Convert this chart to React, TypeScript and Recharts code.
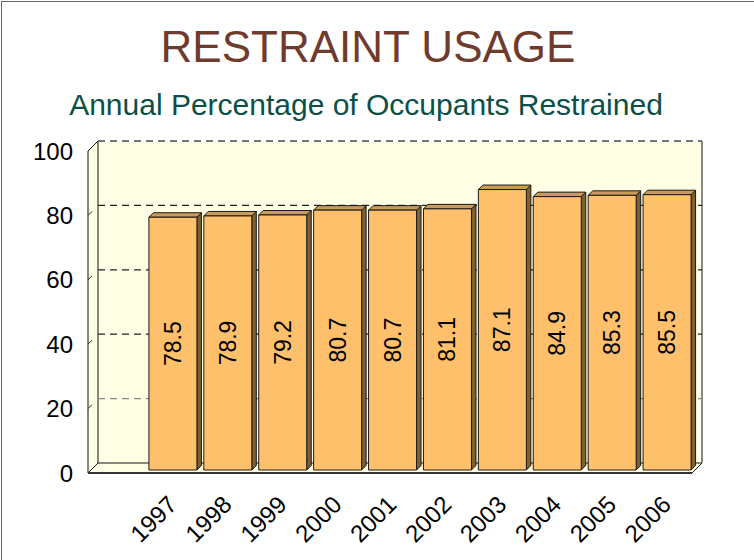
import React from 'react';
import { BarChart, Bar, XAxis, YAxis, ReferenceArea, LabelList } from 'recharts';

// first slot is left empty on purpose, like the original sheet
const years = ['', '1997', '1998', '1999', '2000', '2001', '2002', '2003', '2004', '2005', '2006'];
const usage = [null, 78.5, 78.9, 79.2, 80.7, 80.7, 81.1, 87.1, 84.9, 85.3, 85.5];
const yTicks = [0, 20, 40, 60, 80, 100];

const data = years.map((year, i) => ({ year, usage: usage[i] }));

const FONT = 'Arial, "Liberation Sans", sans-serif';
const WALL = '#FFFFE6';
const BACK = 7;
const FRONT = 3;

const Walls = (props: any) => {
  const { x, y, width, height } = props;
  const left = x;
  const right = x + width;
  const top = y;
  const bottom = y + height;
  const yOf = (v: number) => bottom - (v / 100) * height;

  return (
    <g>
      <rect x={left + BACK} y={top - BACK} width={width} height={height} fill={WALL} stroke="none" />
      <polygon
        points={`${left - FRONT},${bottom + FRONT} ${left + BACK},${bottom - BACK} ${left + BACK},${top - BACK} ${left - FRONT},${top + FRONT}`}
        fill={WALL}
        stroke="#111"
        strokeWidth={1}
      />
      <polygon
        points={`${left - FRONT},${bottom + FRONT} ${left + BACK},${bottom - BACK} ${right + BACK},${bottom - BACK} ${right - FRONT},${bottom + FRONT}`}
        fill={WALL}
        stroke="#111"
        strokeWidth={1}
      />
      <line x1={right + BACK} y1={top - BACK} x2={right + BACK} y2={bottom - BACK} stroke="#888" strokeWidth={2} />
      <line x1={left + BACK} y1={top - BACK} x2={right + BACK} y2={top - BACK} stroke="#777" strokeWidth={2} strokeDasharray="7 5" />
      {yTicks.filter((v) => v > 0 && v < 100).map((v) => (
        <g key={v}>
          <line
            x1={left + BACK}
            y1={yOf(v) - BACK}
            x2={right + BACK}
            y2={yOf(v) - BACK}
            stroke={v === 20 ? '#888' : '#222'}
            strokeWidth={1.3}
            strokeDasharray="7 5"
          />
          <line x1={left - FRONT} y1={yOf(v) + FRONT} x2={left - FRONT + 4} y2={yOf(v) + FRONT - 4} stroke="#222" />
        </g>
      ))}
      <line x1={left - FRONT} y1={bottom + FRONT} x2={right - FRONT} y2={bottom + FRONT} stroke="#333" strokeWidth={2} />
    </g>
  );
};

const Bar3D = (props: any) => {
  const { x, y, width, height } = props;
  if (!height || height <= 0) return null;
  const d = 4.5;
  return (
    <g stroke="#1a1a1a" strokeWidth={1} strokeLinejoin="round">
      <polygon
        points={`${x + width},${y} ${x + width + d},${y - d} ${x + width + d},${y + height - d} ${x + width},${y + height}`}
        fill="#80602F"
      />
      <polygon
        points={`${x},${y} ${x + d},${y - d} ${x + width + d},${y - d} ${x + width},${y}`}
        fill="#C99A58"
      />
      <rect x={x} y={y} width={width} height={height} fill="#FFC06C" />
    </g>
  );
};

const ValueLabel = (props: any) => {
  const { x, y, width, height, value } = props;
  if (value == null) return null;
  const cx = x + width / 2;
  const cy = y + height / 2;
  return (
    <text
      x={cx}
      y={cy}
      transform={`rotate(-90, ${cx}, ${cy})`}
      textAnchor="middle"
      dominantBaseline="central"
      fontSize={23}
      fontFamily={FONT}
      fill="#000"
    >
      {value.toFixed(1)}
    </text>
  );
};

const YearTick = (props: any) => {
  const { x, y, payload } = props;
  if (!payload.value) return null;
  return (
    <text
      transform={`translate(${x + 5},${y + 36}) rotate(-45)`}
      textAnchor="end"
      fontSize={24}
      fontFamily={FONT}
      fill="#000"
    >
      {payload.value}
    </text>
  );
};

const ValueTick = (props: any) => {
  const { x, y, payload } = props;
  return (
    <text x={x} y={y + FRONT} textAnchor="end" dominantBaseline="central" fontSize={24} fontFamily={FONT} fill="#000">
      {payload.value}
    </text>
  );
};

export default function App() {
  return (
    <div style={{ position: 'fixed', left: 0, top: 0, width: 754, height: 560, background: '#fff', overflow: 'hidden', fontFamily: FONT }}>
      <div style={{ position: 'absolute', left: 1, top: 1, width: 800, height: 600, borderLeft: '1px solid #666', borderTop: '1px solid #666' }} />
      <svg width={754} height={130} style={{ position: 'absolute', left: 0, top: 0 }}>
        <text x={368} y={62} textAnchor="middle" fontSize={44} fontFamily={FONT} fill="#6E3B2C">
          RESTRAINT USAGE
        </text>
        <text x={366} y={115} textAnchor="middle" fontSize={30} fontFamily={FONT} fill="#0B4F46">
          Annual Percentage of Occupants Restrained
        </text>
      </svg>
      <div style={{ position: 'absolute', left: 0, top: 0 }}>
        <BarChart width={754} height={560} data={data} margin={{ top: 148, right: 59, bottom: 60, left: 0 }}>
          <ReferenceArea y1={0} y2={100} shape={<Walls />} ifOverflow="visible" />
          <XAxis dataKey="year" height={30} interval={0} tickLine={false} axisLine={false} tickSize={0} tickMargin={0} tick={<YearTick />} />
          <YAxis
            domain={[0, 100]}
            ticks={yTicks}
            width={91}
            axisLine={false}
            tickLine={false}
            tickSize={0}
            tickMargin={18}
            tick={<ValueTick />}
          />
          <Bar dataKey="usage" barSize={48} shape={<Bar3D />} isAnimationActive={false}>
            <LabelList dataKey="usage" content={<ValueLabel />} />
          </Bar>
        </BarChart>
      </div>
    </div>
  );
}
